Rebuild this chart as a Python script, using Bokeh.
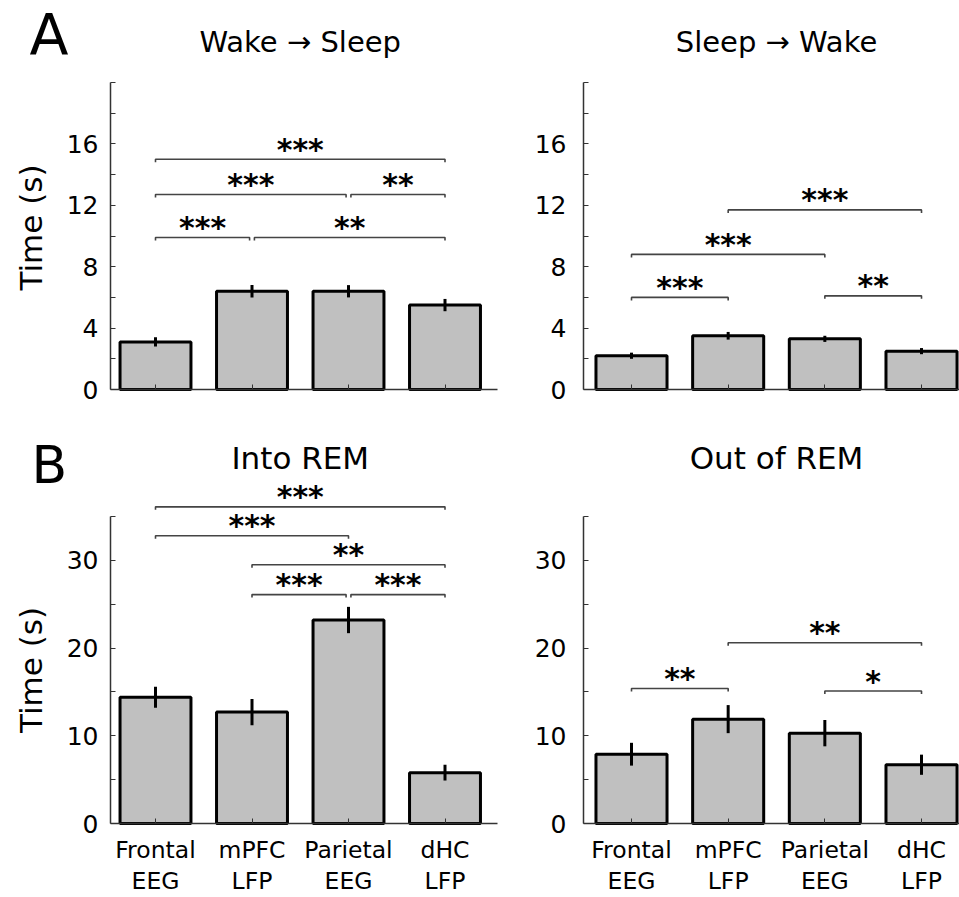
import math

from bokeh.embed import file_html
from bokeh.layouts import column, row
from bokeh.models import FixedTicker, Label, Range1d
from bokeh.plotting import figure
from bokeh.resources import INLINE

# ---------------------------------------------------------------- data
regions = ["Frontal\nEEG", "mPFC\nLFP", "Parietal\nEEG", "dHC\nLFP"]

wake_sleep_mean = [3.1, 6.4, 6.4, 5.5]
wake_sleep_sem = [0.3, 0.4, 0.4, 0.4]

sleep_wake_mean = [2.2, 3.5, 3.3, 2.5]
sleep_wake_sem = [0.2, 0.25, 0.2, 0.2]

into_rem_mean = [14.4, 12.7, 23.2, 5.8]
into_rem_sem = [1.2, 1.5, 1.5, 0.9]

out_rem_mean = [7.9, 11.9, 10.3, 6.7]
out_rem_sem = [1.3, 1.6, 1.5, 1.15]

# pairwise comparisons: (first bar, second bar, bracket height, stars)
wake_sleep_sig = [(0, 3, 15.0, "***"), (0, 2, 12.7, "***"), (2, 3, 12.7, "**"),
                  (0, 1, 9.9, "***"), (1, 3, 9.9, "**")]
sleep_wake_sig = [(0, 1, 6.0, "***"), (0, 2, 8.8, "***"), (1, 3, 11.7, "***"),
                  (2, 3, 6.1, "**")]
into_rem_sig = [(0, 3, 36.1, "***"), (0, 2, 32.8, "***"), (1, 3, 29.5, "**"),
                (1, 2, 26.1, "***"), (2, 3, 26.1, "***")]
out_rem_sig = [(0, 1, 15.4, "**"), (1, 3, 20.6, "**"), (2, 3, 15.1, "*")]

short_y_labels = [0, 4, 8, 12, 16]
short_y_minor = [2, 6, 10, 14, 18, 20]
long_y_labels = [0, 10, 20, 30]
long_y_minor = [5, 15, 25, 35]

# ---------------------------------------------------------------- style
FONT = "DejaVu Sans"
BAR_FILL = "#c0c0c0"
SPINE = "#333333"
BRACKET = "#444444"


def make_panel(box, axes_geom, means, sems, sig, y_major, y_minor, y_max,
               title, title_size, title_mid, show_names, letter=None,
               ylabel_x=None):
    left, top, right, bottom = box
    spine_px, first_px, step_px, zero_px, unit_px, axis_end_px = axes_geom

    def dx(px):
        return (px - first_px) / step_px

    def dy(py):
        return (zero_px - py) / unit_px

    p = figure(
        width=int(right - left), height=int(bottom - top),
        min_border=0, min_border_left=0, min_border_right=0,
        min_border_top=0, min_border_bottom=0,
        x_range=Range1d(dx(left), dx(right)),
        y_range=Range1d(dy(bottom), dy(top)),
        output_backend="svg", toolbar_location=None,
    )
    p.outline_line_color = None
    p.xgrid.visible = False
    p.ygrid.visible = False
    p.background_fill_color = "white"
    p.border_fill_color = "white"

    xs = list(range(len(means)))

    # bars and error bars
    p.vbar(x=xs, top=means, width=0.735, bottom=0, fill_color=BAR_FILL,
           line_color="black", line_width=3)
    p.segment(x0=xs, y0=[m - s for m, s in zip(means, sems)],
              x1=xs, y1=[m + s for m, s in zip(means, sems)],
              line_color="black", line_width=3)

    # significance brackets with their stars
    tick = 3.0 / unit_px
    joints = {}
    for i, j, h, _ in sig:
        joints.setdefault((h, i), []).append("L")
        joints.setdefault((h, j), []).append("R")
    bxs, bys = [], []
    for i, j, h, stars in sig:
        gap_l = 0.025 if len(joints[(h, i)]) > 1 else 0.0
        gap_r = 0.025 if len(joints[(h, j)]) > 1 else 0.0
        x0, x1 = i + gap_l, j - gap_r
        bxs.append([x0, x0, x1, x1])
        bys.append([h - tick, h, h, h - tick])
        p.add_layout(Label(
            x=(x0 + x1) / 2, y=h + 10.0 / unit_px, text=stars,
            text_font=FONT, text_font_style="bold", text_font_size="30px",
            text_align="center", text_baseline="middle",
            text_color="black"))
    p.multi_line(xs=bxs, ys=bys, line_color=BRACKET, line_width=1.6)

    # x axis drawn along the zero line
    xa = p.xaxis[0]
    xa.fixed_location = 0
    xa.bounds = (dx(spine_px), dx(axis_end_px))
    xa.axis_line_color = SPINE
    xa.axis_line_width = 1.5
    xa.major_tick_line_color = SPINE
    xa.major_tick_in = 5
    xa.major_tick_out = 0
    xa.minor_tick_line_color = SPINE
    xa.minor_tick_in = 5
    xa.minor_tick_out = 0
    if show_names:
        xa.ticker = FixedTicker(ticks=xs, minor_ticks=[])
        xa.major_label_overrides = {k: regions[k] for k in xs}
        xa.major_label_text_font = FONT
        xa.major_label_text_font_size = "23.5px"
        xa.major_label_text_color = "black"
        xa.major_label_text_line_height = 1.14
        xa.major_label_standoff = 12
    else:
        xa.ticker = FixedTicker(ticks=[], minor_ticks=xs)

    # y axis drawn along the left spine
    ya = p.yaxis[0]
    ya.fixed_location = dx(spine_px)
    ya.ticker = FixedTicker(ticks=y_major, minor_ticks=y_minor)
    ya.bounds = (0, y_max)
    ya.axis_line_color = SPINE
    ya.axis_line_width = 1.5
    ya.major_tick_line_color = SPINE
    ya.major_tick_in = 5
    ya.major_tick_out = 0
    ya.minor_tick_line_color = SPINE
    ya.minor_tick_in = 5
    ya.minor_tick_out = 0
    ya.major_label_text_font = FONT
    ya.major_label_text_font_size = "25px"
    ya.major_label_text_color = "black"
    ya.major_label_standoff = 12 if spine_px < 300 else 17

    # panel title
    p.add_layout(Label(
        x=1.5, y=dy(title_mid), text=title, text_font=FONT,
        text_font_size=title_size, text_align="center",
        text_baseline="middle", text_color="black"))

    if letter is not None:
        ltext, lsize, lx, lmid = letter
        p.add_layout(Label(
            x=dx(lx), y=dy(lmid), text=ltext, text_font=FONT,
            text_font_size=lsize, text_align="left",
            text_baseline="middle", text_color="black"))

    if ylabel_x is not None:
        p.add_layout(Label(
            x=dx(ylabel_x), y=y_max / 2 + (0.55 if y_max < 30 else 0.0),
            text="Time (s)", angle=math.pi / 2, text_font=FONT,
            text_font_size="31px", text_align="center",
            text_baseline="middle", text_color="black"))
    return p


# page boxes (left, top, right, bottom)
TL_BOX = (0, 0, 500, 430)
TR_BOX = (500, 0, 959, 430)
BL_BOX = (0, 430, 500, 897)
BR_BOX = (500, 430, 959, 897)
# axes: spine x, first bar centre, bar spacing, zero line, px per unit,
# end of the x-axis line (page px)
TL_AX = (110, 155, 96.5, 389, 15.35, 497)
TR_AX = (583, 631, 96.67, 389, 15.35, 959)
BL_AX = (110, 155, 96.5, 823, 8.771, 497)
BR_AX = (583, 631, 96.67, 823, 8.771, 959)

p1 = make_panel(TL_BOX, TL_AX, wake_sleep_mean, wake_sleep_sem,
                wake_sleep_sig, short_y_labels, short_y_minor, 20,
                "Wake \u2192 Sleep", "29px", 41.5, False,
                letter=("A", "57px", 29, 34), ylabel_x=30)
p2 = make_panel(TR_BOX, TR_AX, sleep_wake_mean, sleep_wake_sem,
                sleep_wake_sig, short_y_labels, short_y_minor, 20,
                "Sleep \u2192 Wake", "29px", 41, False)
p3 = make_panel(BL_BOX, BL_AX, into_rem_mean, into_rem_sem, into_rem_sig,
                long_y_labels, long_y_minor, 35, "Into REM", "31px", 457,
                True, letter=("B", "52px", 31, 464), ylabel_x=30)
p4 = make_panel(BR_BOX, BR_AX, out_rem_mean, out_rem_sem, out_rem_sig,
                long_y_labels, long_y_minor, 35, "Out of REM", "31px", 457,
                True)

page = column(row(p1, p2), row(p3, p4))

with open("out.html", "w") as f:
    f.write(file_html(page, INLINE))
